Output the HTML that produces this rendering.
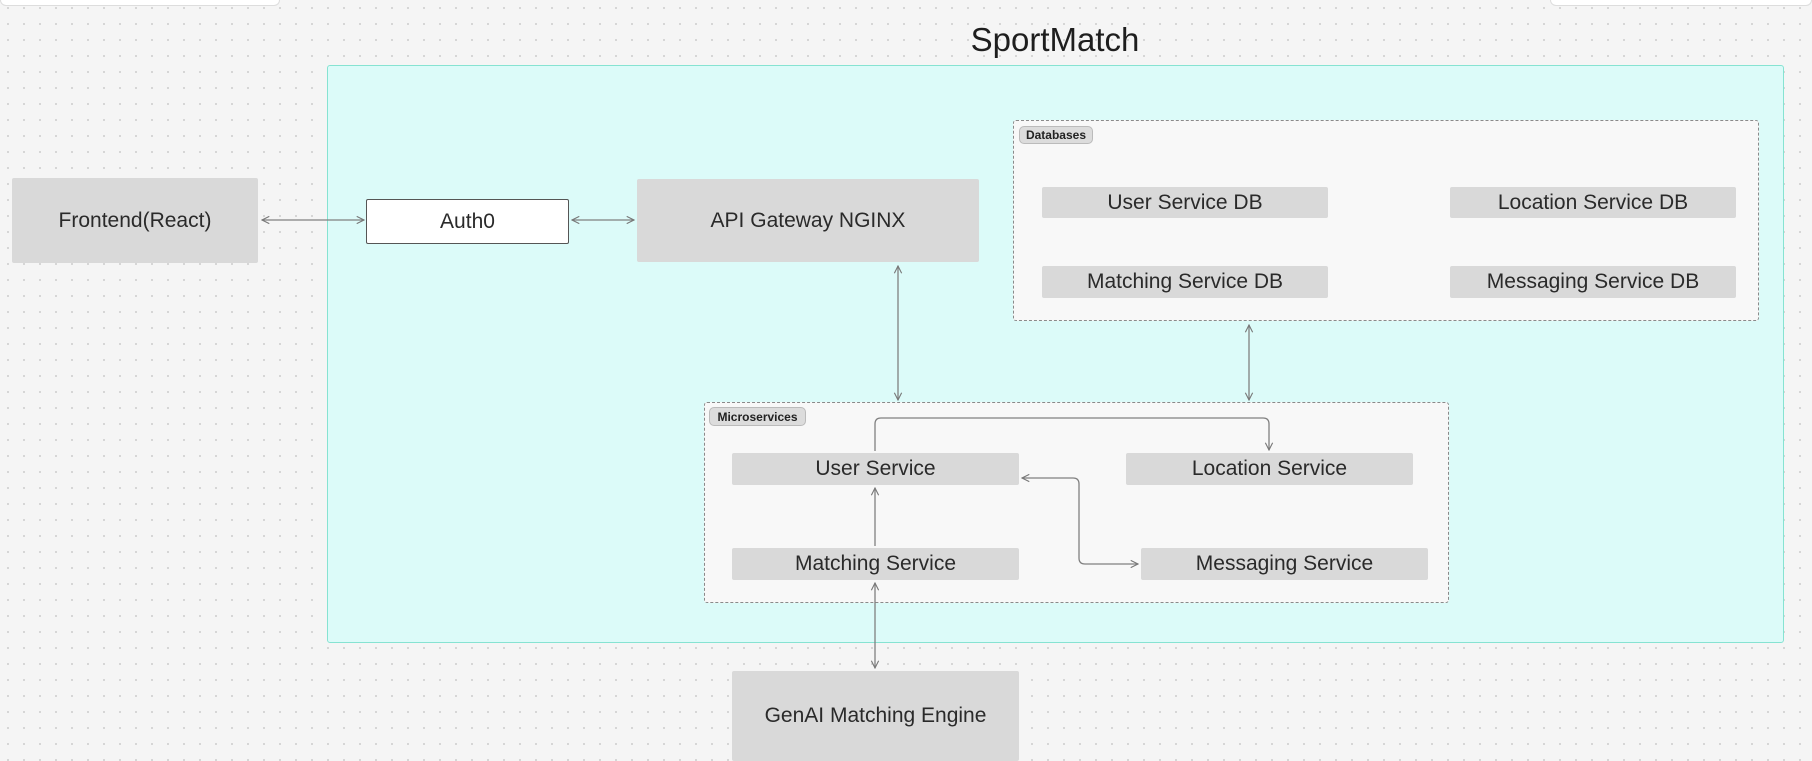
<!DOCTYPE html>
<html><head><meta charset="utf-8"><style>
body{margin:0;width:1812px;height:756px;overflow:hidden;background-color:#f5f5f5;background-image:radial-gradient(#d4d4d4 1px,transparent 1.2px);background-size:16px 16px;font-family:"Liberation Sans",sans-serif;position:relative}
.a{position:absolute;box-sizing:border-box}
.n{background:#d9d9d9;display:flex;align-items:center;justify-content:center;color:#2a2a2a;font-size:21px;border-radius:2px}
.g{border:1.5px dashed #8a8a8a;background:#f8f8f8;border-radius:3px}
.lb{background:#dcdcdc;border:1px solid #bbb;border-radius:5px;font-size:12px;color:#222;display:flex;align-items:center;justify-content:center;font-weight:600}
</style></head><body>
<div class="a" style="left:0;top:0;width:280px;height:6px;background:#fff;border:1px solid #ddd;border-top:none;border-radius:0 0 6px 6px"></div>
<div class="a" style="left:1550px;top:0;width:262px;height:6px;background:#fff;border:1px solid #ddd;border-top:none;border-radius:0 0 6px 6px"></div>
<div class="a" style="left:900px;top:21px;width:310px;text-align:center;font-size:33px;color:#1e1e1e">SportMatch</div>
<div class="a" style="left:327px;top:65px;width:1457px;height:578px;background:#dcfbf9;border:1px solid #86e3d2;border-radius:3px"></div>
<div class="a n" style="left:12px;top:178px;width:246px;height:85px">Frontend(React)</div>
<div class="a n" style="left:366px;top:199px;width:203px;height:45px;background:#fff;border:1px solid #555">Auth0</div>
<div class="a n" style="left:637px;top:179px;width:342px;height:83px">API Gateway NGINX</div>
<div class="a g" style="left:1013px;top:120px;width:746px;height:201px"></div>
<div class="a lb" style="left:1019px;top:126px;width:74px;height:18px">Databases</div>
<div class="a n" style="left:1042px;top:187px;width:286px;height:31px">User Service DB</div>
<div class="a n" style="left:1450px;top:187px;width:286px;height:31px">Location Service DB</div>
<div class="a n" style="left:1042px;top:266px;width:286px;height:32px">Matching Service DB</div>
<div class="a n" style="left:1450px;top:266px;width:286px;height:32px">Messaging Service DB</div>
<div class="a g" style="left:704px;top:402px;width:745px;height:201px"></div>
<div class="a lb" style="left:709px;top:407px;width:97px;height:19px">Microservices</div>
<div class="a n" style="left:732px;top:453px;width:287px;height:32px">User Service</div>
<div class="a n" style="left:1126px;top:453px;width:287px;height:32px">Location Service</div>
<div class="a n" style="left:732px;top:548px;width:287px;height:32px">Matching Service</div>
<div class="a n" style="left:1141px;top:548px;width:287px;height:32px">Messaging Service</div>
<div class="a n" style="left:732px;top:671px;width:287px;height:90px">GenAI Matching Engine</div>
<svg class="a" style="left:0;top:0" width="1812" height="756">
<defs><marker id="m" viewBox="0 0 10 10" refX="9" refY="5" markerWidth="7" markerHeight="7" orient="auto-start-reverse"><path d="M1 1L9 5L1 9" fill="none" stroke="#777" stroke-width="1.2"/></marker></defs>
<g stroke="#808080" stroke-width="1.3" fill="none">
<line x1="262" y1="220" x2="364" y2="220" marker-start="url(#m)" marker-end="url(#m)"/>
<line x1="572" y1="220" x2="634" y2="220" marker-start="url(#m)" marker-end="url(#m)"/>
<line x1="898" y1="266" x2="898" y2="400" marker-start="url(#m)" marker-end="url(#m)"/>
<line x1="1249" y1="325" x2="1249" y2="400" marker-start="url(#m)" marker-end="url(#m)"/>
<path d="M875 451V424q0-6 6-6H1263q6 0 6 6V450" marker-end="url(#m)"/>
<path d="M1138 564H1085q-6 0-6-6V484q0-6-6-6H1022" marker-start="url(#m)" marker-end="url(#m)"/>
<line x1="875" y1="546" x2="875" y2="488" marker-end="url(#m)"/>
<line x1="875" y1="583" x2="875" y2="668" marker-start="url(#m)" marker-end="url(#m)"/>
</g></svg>
</body></html>
